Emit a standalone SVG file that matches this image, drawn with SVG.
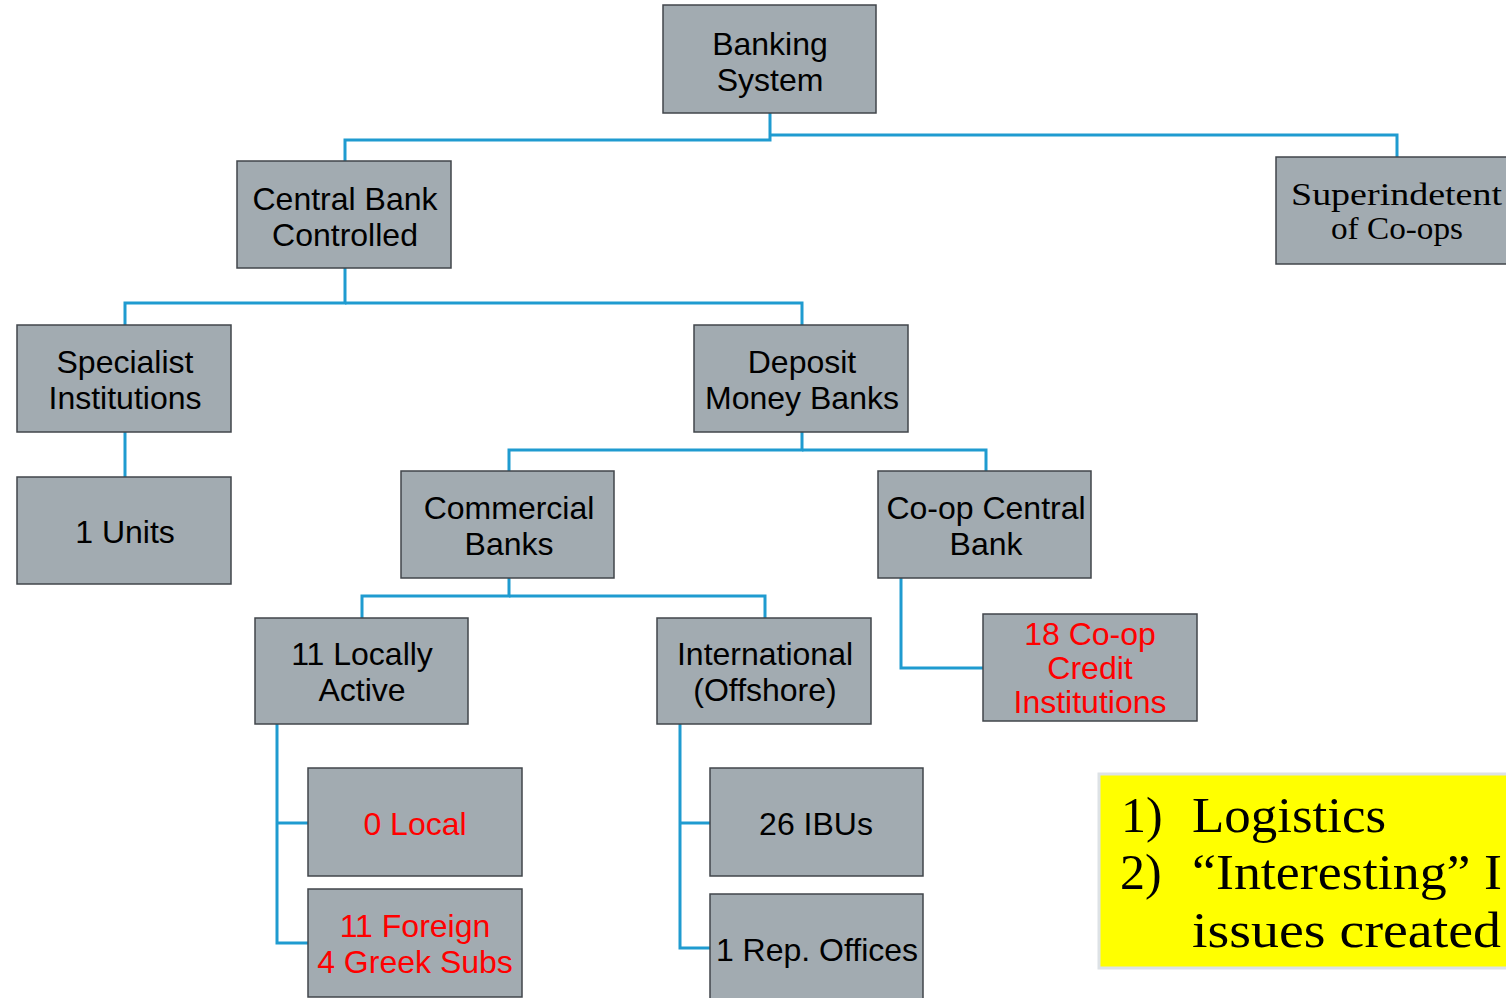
<svg xmlns="http://www.w3.org/2000/svg" width="1506" height="998" viewBox="0 0 1506 998">
<style>
.box{fill:#A2ABB1;stroke:#41464B;stroke-width:1.5}
.t{font-family:"Liberation Sans",Arial,sans-serif;font-size:32px;fill:#000;text-anchor:middle}
.r{fill:#FF0000}
.s{font-family:"Liberation Serif","Times New Roman",serif;fill:#000}
.c{fill:none;stroke:#1F9BD0;stroke-width:3}
</style>
<rect width="1506" height="998" fill="#fff"/>
<g id="connectors">
<polyline class="c" points="770,113 770,140 345,140 345,161"/>
<polyline class="c" points="770,135 1397,135 1397,157"/>
<polyline class="c" points="345,268 345,303 125,303 125,325"/>
<polyline class="c" points="345,303 802,303 802,325"/>
<polyline class="c" points="125,432 125,477"/>
<polyline class="c" points="802,432 802,450 509,450 509,471"/>
<polyline class="c" points="802,450 986,450 986,471"/>
<polyline class="c" points="509,578 509,596 362,596 362,618"/>
<polyline class="c" points="509,596 765,596 765,618"/>
<polyline class="c" points="901,578 901,668 983,668"/>
<polyline class="c" points="277,724 277,943 308,943"/>
<polyline class="c" points="277,823 308,823"/>
<polyline class="c" points="680,724 680,948 710,948"/>
<polyline class="c" points="680,823 710,823"/>
</g>
<g id="banking-system">
<rect class="box" x="663" y="5" width="213" height="108"/>
<text class="t" x="770" y="55">Banking</text>
<text class="t" x="770" y="91">System</text>
</g>
<g id="superintendent">
<rect class="box" x="1276" y="157" width="250" height="107"/>
<text class="s" x="1291" y="205" font-size="32" textLength="211" lengthAdjust="spacingAndGlyphs">Superindetent</text>
<text class="s" x="1331" y="239" font-size="32" textLength="132" lengthAdjust="spacingAndGlyphs">of Co-ops</text>
</g>
<g id="central-bank">
<rect class="box" x="237" y="161" width="214" height="107"/>
<text class="t" x="345" y="210">Central Bank</text>
<text class="t" x="345" y="246">Controlled</text>
</g>
<g id="specialist">
<rect class="box" x="17" y="325" width="214" height="107"/>
<text class="t" x="125" y="373">Specialist</text>
<text class="t" x="125" y="409">Institutions</text>
</g>
<g id="deposit-money-banks">
<rect class="box" x="694" y="325" width="214" height="107"/>
<text class="t" x="802" y="373">Deposit</text>
<text class="t" x="802" y="409">Money Banks</text>
</g>
<g id="units">
<rect class="box" x="17" y="477" width="214" height="107"/>
<text class="t" x="125" y="543">1 Units</text>
</g>
<g id="commercial-banks">
<rect class="box" x="401" y="471" width="213" height="107"/>
<text class="t" x="509" y="519">Commercial</text>
<text class="t" x="509" y="555">Banks</text>
</g>
<g id="coop-central-bank">
<rect class="box" x="878" y="471" width="213" height="107"/>
<text class="t" x="986" y="519">Co-op Central</text>
<text class="t" x="986" y="555">Bank</text>
</g>
<g id="locally-active">
<rect class="box" x="255" y="618" width="213" height="106"/>
<text class="t" x="362" y="665">11 Locally</text>
<text class="t" x="362" y="701">Active</text>
</g>
<g id="international">
<rect class="box" x="657" y="618" width="214" height="106"/>
<text class="t" x="765" y="665">International</text>
<text class="t" x="765" y="701">(Offshore)</text>
</g>
<g id="coop-credit">
<rect class="box" x="983" y="614" width="214" height="107"/>
<text class="t r" x="1090" y="645">18 Co-op</text>
<text class="t r" x="1090" y="679">Credit</text>
<text class="t r" x="1090" y="713">Institutions</text>
</g>
<g id="local">
<rect class="box" x="308" y="768" width="214" height="108"/>
<text class="t r" x="415" y="835">0 Local</text>
</g>
<g id="foreign">
<rect class="box" x="308" y="889" width="214" height="108"/>
<text class="t r" x="415" y="937">11 Foreign</text>
<text class="t r" x="415" y="973">4 Greek Subs</text>
</g>
<g id="ibus">
<rect class="box" x="710" y="768" width="213" height="108"/>
<text class="t" x="816" y="835">26 IBUs</text>
</g>
<g id="rep-offices">
<rect class="box" x="710" y="894" width="213" height="110"/>
<text class="t" x="817" y="961">1 Rep. Offices</text>
</g>
<g id="note">
<rect x="1099" y="774" width="420" height="194" fill="#FFFF00" stroke="#DDE2E6" stroke-width="3"/>
<text class="s" x="1121" y="832" font-size="50">1)</text>
<text class="s" x="1192" y="832" font-size="50" textLength="194" lengthAdjust="spacingAndGlyphs">Logistics</text>
<text class="s" x="1120" y="889" font-size="50">2)</text>
<text class="s" x="1192" y="889" font-size="50" textLength="310" lengthAdjust="spacingAndGlyphs">“Interesting” I</text>
<text class="s" x="1192" y="947" font-size="50" textLength="309" lengthAdjust="spacingAndGlyphs">issues created</text>
</g>
</svg>
